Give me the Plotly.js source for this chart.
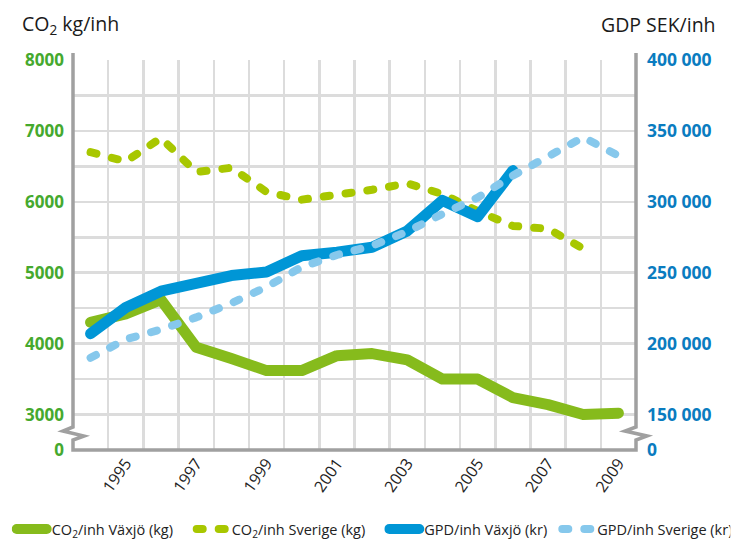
<!DOCTYPE html>
<html>
<head>
<meta charset="utf-8">
<script src="https://cdn.plot.ly/plotly-3.0.1.min.js"></script>
<style>
html,body{margin:0;padding:0;background:#fff;}
#chart{width:732px;height:545px;}
path.js-line{stroke-linecap:round !important;stroke-linejoin:round !important;}
</style>
</head>
<body>
<div id="chart"></div>
<script>
// ---- data ----
const years = [1994,1995,1996,1997,1998,1999,2000,2001,2002,2003,2004,2005,2006,2007,2008,2009];
const co2Vaxjo   = [4300,4420,4620,3950,3790,3620,3620,3830,3860,3770,3500,3500,3240,3140,3000,3020];
const co2Sverige = [6700,6570,6900,6420,6480,6140,6030,6090,6170,6260,6110,5870,5660,5620,5340,null];
const gdpVaxjo   = [207000,225500,237000,242500,248000,250500,262000,264500,268000,279500,301000,289500,322000,null,null,null];
const gdpSverige = [190000,203000,210000,218500,228500,240000,254000,262500,269000,279000,291500,303000,318500,331500,345500,332500];
const xTickYears = [1995,1997,1999,2001,2003,2005,2007,2009];
const leftTickVals  = [2500,3000,4000,5000,6000,7000,8000];
const leftTickText  = ['0','3000','4000','5000','6000','7000','8000'];
const rightTickVals = [125000,150000,200000,250000,300000,350000,400000];
const rightTickText = ['0','150 000','200 000','250 000','300 000','350 000','400 000'];
const leftMinorGrid = [3500,4500,5500,6500,7500];
const seriesNames = ['CO<sub>2</sub>/inh Växjö (kg)','CO<sub>2</sub>/inh Sverige (kg)','GPD/inh Växjö (kr)','GPD/inh Sverige (kr)'];

const FONT = 'Open Sans, Noto Sans, sans-serif';
const GREEN = '#86bb1c', GREEN_D = '#a8c700', BLUE = '#0096d6', LBLUE = '#86c8ec';
const GRID = '#dcdcdc', AXIS = '#a0a0a0';

const traces = [
  {x: years, y: co2Vaxjo, name: seriesNames[0], type:'scatter', mode:'lines',
   line:{color:GREEN, width:11}, xaxis:'x', yaxis:'y', legend:'legend'},
  {x: years, y: co2Sverige, name: seriesNames[1], type:'scatter', mode:'lines',
   line:{color:GREEN_D, width:8, dash:'6px,16px'}, xaxis:'x', yaxis:'y', legend:'legend'},
  {x: years, y: gdpVaxjo, name: seriesNames[2], type:'scatter', mode:'lines',
   line:{color:BLUE, width:11}, xaxis:'x', yaxis:'y2', legend:'legend2'},
  {x: years, y: gdpSverige, name: seriesNames[3], type:'scatter', mode:'lines',
   line:{color:LBLUE, width:8, dash:'6px,16px'}, xaxis:'x', yaxis:'y2', legend:'legend2'}
];

// axis frame with break marks (paper coords)
const framePath = 'M 0 1.018 L 0 0.059 L -0.0178 0.0487 L 0.0195 0.0359 L 0 0.0256 L 0 0 ' +
                  'L 1 0 L 1 0.0256 L 1.0195 0.0359 L 0.9805 0.0487 L 1 0.059 L 1 1.018';

const legendBase = {orientation:'h', xref:'container', yref:'container', y:0.0, xanchor:'left', yanchor:'bottom',
          font:{size:14.5, color:'#222', family:FONT}, itemwidth:30, bgcolor:'rgba(0,0,0,0)'};

const layout = {
  width:732, height:545,
  margin:{l:73, r:96, t:60, b:95, pad:0},
  paper_bgcolor:'#fff', plot_bgcolor:'#fff',
  font:{family:FONT, color:'#222'},
  showlegend:true,
  legend: Object.assign({}, legendBase, {x:0.016, entrywidth:135}),
  legend2: Object.assign({}, legendBase, {x:0.525, entrywidth:128}),
  xaxis:{range:[1993.5,2009.5], tickmode:'array', tickvals:xTickYears, ticktext:xTickYears.map(String),
         tickangle:-55, tickfont:{size:16, color:'#222', family:FONT}, showgrid:false, zeroline:false,
         showline:false, ticks:'', automargin:false,
         minor:{tick0:0.5, dtick:1, showgrid:true, gridcolor:GRID, gridwidth:2.5, ticks:''}},
  yaxis:{range:[2500,8000], tickmode:'array', tickvals:leftTickVals, ticktext:leftTickText,
         showgrid:true, gridcolor:GRID, gridwidth:2.5, zeroline:false, showline:false, ticks:'',
         tickfont:{size:17, color:'#45a92e', family:FONT, weight:'bold'}, ticklabelstandoff:8, automargin:false,
         minor:{tickvals:leftMinorGrid, showgrid:true, gridcolor:GRID, gridwidth:2.5, ticks:''}},
  yaxis2:{range:[125000,400000], overlaying:'y', side:'right', tickmode:'array', tickvals:rightTickVals, ticktext:rightTickText,
          showgrid:false, zeroline:false, showline:false, ticks:'',
          tickfont:{size:17.5, color:'#0a7cc0', family:FONT, weight:'bold'}, ticklabelstandoff:10, automargin:false},
  shapes:[{type:'path', xref:'paper', yref:'paper', path:framePath, line:{color:AXIS, width:3.5}, layer:'above'}],
  annotations:[
    {text:'CO<sub>2</sub> kg/inh', xref:'paper', yref:'paper', x:-0.094, y:1.09, xanchor:'left', yanchor:'middle',
     showarrow:false, font:{size:19.5, color:'#1a1a1a', family:FONT}},
    {text:'GDP SEK/inh', xref:'paper', yref:'paper', x:1.1456, y:1.09, xanchor:'right', yanchor:'middle',
     showarrow:false, font:{size:19.5, color:'#1a1a1a', family:FONT}}
  ]
};

Plotly.newPlot('chart', traces, layout, {staticPlot:true, displayModeBar:false});
</script>
</body>
</html>
